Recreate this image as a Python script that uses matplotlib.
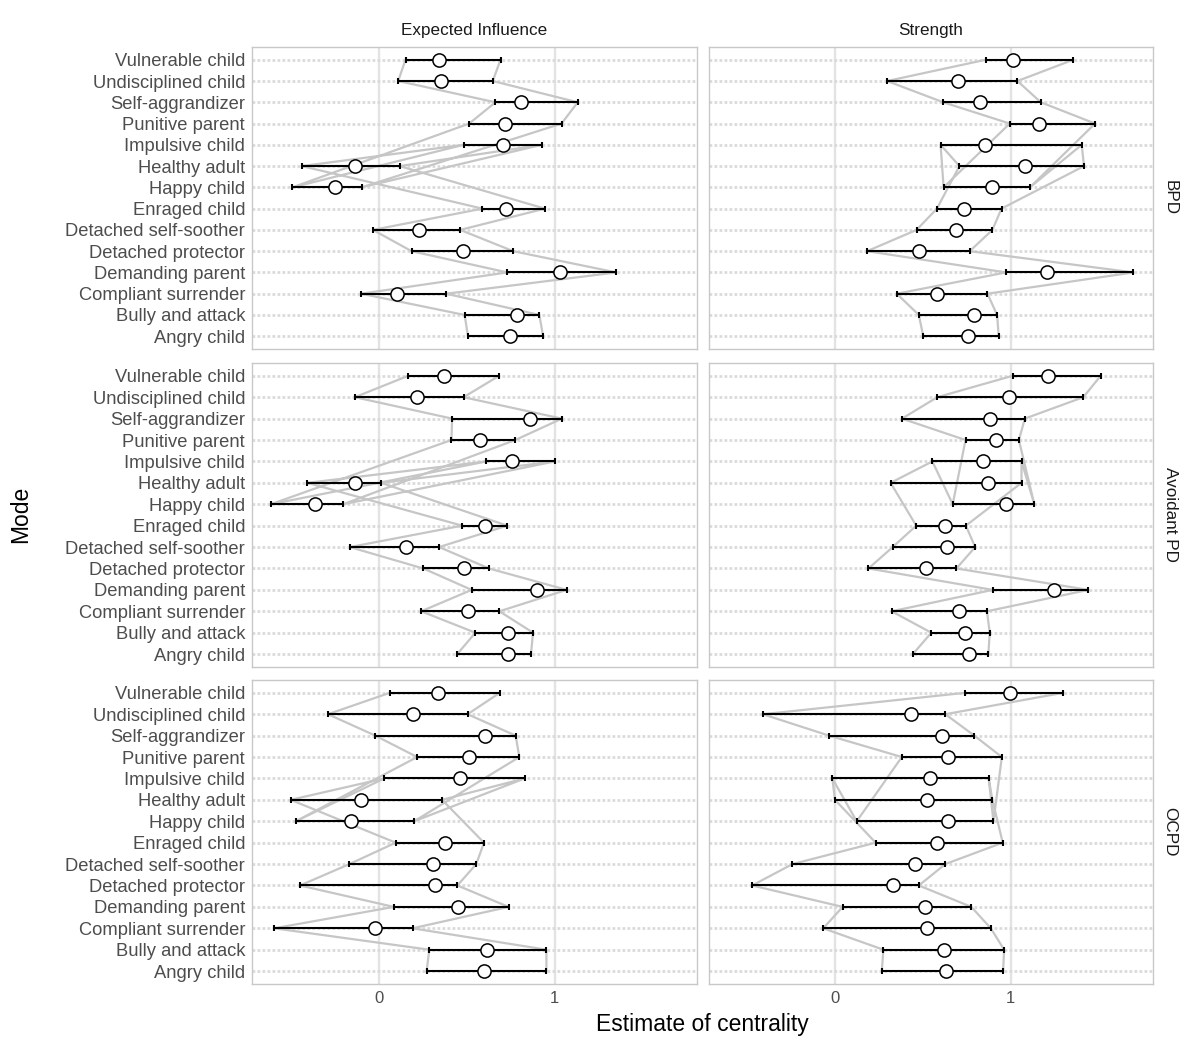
import matplotlib
matplotlib.use("Agg")
import matplotlib.pyplot as plt
import numpy as np

plt.rcParams['font.family'] = ['Liberation Sans', 'DejaVu Sans']

# ---- categories (display order, top to bottom) ----
modes = ["Vulnerable child", "Undisciplined child", "Self-aggrandizer",
         "Punitive parent", "Impulsive child", "Healthy adult", "Happy child",
         "Enraged child", "Detached self-soother", "Detached protector",
         "Demanding parent", "Compliant surrender", "Bully and attack",
         "Angry child"]
# order in which the CI bound lines are connected
path_order = ["Vulnerable child", "Undisciplined child", "Self-aggrandizer",
              "Punitive parent", "Happy child", "Impulsive child",
              "Healthy adult", "Enraged child", "Detached self-soother",
              "Detached protector", "Demanding parent", "Compliant surrender",
              "Bully and attack", "Angry child"]

disorders = ["BPD", "Avoidant PD", "OCPD"]
measures = ["Expected Influence", "Strength"]

# ---- BPD ----
bpd_ei_est = [0.344, 0.355, 0.809, 0.718, 0.706, -0.132, -0.250, 0.727, 0.227, 0.479, 1.031, 0.103, 0.784, 0.748]
bpd_ei_lo  = [0.153, 0.111, 0.664, 0.515, 0.483, -0.437, -0.490, 0.590, -0.032, 0.187, 0.731, -0.099, 0.489, 0.508]
bpd_ei_hi  = [0.693, 0.649, 1.132, 1.040, 0.927, 0.120, -0.097, 0.945, 0.464, 0.765, 1.351, 0.384, 0.914, 0.935]

bpd_st_est = [1.010, 0.699, 0.825, 1.160, 0.851, 1.080, 0.895, 0.731, 0.686, 0.476, 1.204, 0.579, 0.790, 0.756]
bpd_st_lo  = [0.857, 0.295, 0.615, 0.994, 0.600, 0.707, 0.617, 0.579, 0.463, 0.181, 0.973, 0.350, 0.476, 0.501]
bpd_st_hi  = [1.356, 1.038, 1.171, 1.480, 1.404, 1.417, 1.109, 0.947, 0.895, 0.766, 1.699, 0.867, 0.922, 0.931]

# ---- Avoidant PD ----
avd_ei_est = [0.374, 0.218, 0.861, 0.578, 0.758, -0.135, -0.361, 0.607, 0.155, 0.483, 0.901, 0.508, 0.737, 0.735]
avd_ei_lo  = [0.168, -0.135, 0.418, 0.414, 0.613, -0.405, -0.613, 0.475, -0.164, 0.254, 0.529, 0.242, 0.550, 0.447]
avd_ei_hi  = [0.685, 0.483, 1.042, 0.777, 1.002, 0.015, -0.202, 0.731, 0.344, 0.628, 1.069, 0.687, 0.878, 0.866]

avd_st_est = [1.212, 0.989, 0.881, 0.918, 0.841, 0.870, 0.971, 0.623, 0.639, 0.516, 1.245, 0.706, 0.740, 0.763]
avd_st_lo  = [1.010, 0.581, 0.380, 0.742, 0.553, 0.315, 0.669, 0.461, 0.327, 0.189, 0.897, 0.321, 0.547, 0.442]
avd_st_hi  = [1.512, 1.413, 1.080, 1.046, 1.061, 1.061, 1.134, 0.744, 0.797, 0.690, 1.442, 0.864, 0.880, 0.872]

# ---- OCPD ----
ocpd_ei_est = [0.338, 0.195, 0.605, 0.513, 0.464, -0.101, -0.158, 0.378, 0.309, 0.319, 0.452, -0.019, 0.616, 0.601]
ocpd_ei_lo  = [0.063, -0.288, -0.019, 0.219, 0.032, -0.500, -0.471, 0.097, -0.166, -0.447, 0.086, -0.594, 0.288, 0.273]
ocpd_ei_hi  = [0.689, 0.506, 0.779, 0.800, 0.830, 0.361, 0.202, 0.599, 0.555, 0.448, 0.739, 0.193, 0.954, 0.954]

ocpd_st_est = [0.996, 0.429, 0.606, 0.644, 0.537, 0.524, 0.644, 0.577, 0.455, 0.330, 0.510, 0.524, 0.619, 0.629]
ocpd_st_lo  = [0.741, -0.413, -0.036, 0.379, -0.017, -0.002, 0.122, 0.230, -0.244, -0.474, 0.042, -0.069, 0.274, 0.265]
ocpd_st_hi  = [1.299, 0.627, 0.792, 0.949, 0.874, 0.895, 0.901, 0.954, 0.627, 0.476, 0.775, 0.886, 0.962, 0.956]

xticks = [0, 1]
xticklabels = ["0", "1"]

panels = {
    ("BPD", "Expected Influence"): (bpd_ei_est, bpd_ei_lo, bpd_ei_hi),
    ("BPD", "Strength"): (bpd_st_est, bpd_st_lo, bpd_st_hi),
    ("Avoidant PD", "Expected Influence"): (avd_ei_est, avd_ei_lo, avd_ei_hi),
    ("Avoidant PD", "Strength"): (avd_st_est, avd_st_lo, avd_st_hi),
    ("OCPD", "Expected Influence"): (ocpd_ei_est, ocpd_ei_lo, ocpd_ei_hi),
    ("OCPD", "Strength"): (ocpd_st_est, ocpd_st_lo, ocpd_st_hi),
}

fig = plt.figure(figsize=(12, 10.49), dpi=100)

col_x = [(0.210, 0.5808), (0.5908, 0.9608)]
row_y = [(0.6673, 0.9552), (0.3642, 0.6540), (0.0620, 0.3518)]

n = len(modes)
ypos = {m: n - 1 - i for i, m in enumerate(modes)}

for r, dis in enumerate(disorders):
    for c, meas in enumerate(measures):
        x0, x1 = col_x[c]
        y0, y1 = row_y[r]
        ax = fig.add_axes([x0, y0, x1 - x0, y1 - y0])
        est, lo, hi = panels[(dis, meas)]
        d_lo = dict(zip(modes, lo))
        d_hi = dict(zip(modes, hi))

        ax.set_xlim(-0.72, 1.81)
        ax.set_ylim(-0.6, n - 0.4)

        # grid
        for xv in xticks:
            ax.axvline(xv, color="#E3E3E3", lw=1.7, zorder=0)
        for m in modes:
            ax.axhline(ypos[m], color="#DADADA", lw=2.0, ls=(0, (1, 0.8)), zorder=0)

        # CI bound lines
        yp = [ypos[m] for m in path_order]
        ax.plot([d_lo[m] for m in path_order], yp, color="#C6C6C6", lw=1.6, zorder=1)
        ax.plot([d_hi[m] for m in path_order], yp, color="#C6C6C6", lw=1.6, zorder=1)

        ys = [ypos[m] for m in modes]
        ax.errorbar(est, ys,
                    xerr=[np.array(est) - np.array(lo), np.array(hi) - np.array(est)],
                    fmt="none", ecolor="black", elinewidth=1.5, capsize=2.0,
                    capthick=1.5, zorder=2)
        ax.plot(est, ys, "o", ms=9.5, mfc="white", mec="black", mew=1.1, zorder=3)

        for sp in ax.spines.values():
            sp.set_color("#C8C8C8")
            sp.set_linewidth(1.0)

        ax.set_yticks(ys)
        if c == 0:
            ax.set_yticklabels(modes, fontsize=13.2, color="#4D4D4D")
        else:
            ax.set_yticklabels([])
        ax.set_xticks(xticks)
        if r == 2:
            ax.set_xticklabels(xticklabels, fontsize=12, color="#4D4D4D")
        else:
            ax.set_xticklabels([])
        ax.tick_params(length=0, pad=5)

        if r == 0:
            ax.text(0.5, 1.03, meas, transform=ax.transAxes, ha="center",
                    va="bottom", fontsize=12.3, color="#1A1A1A")
        if c == 1:
            ax.text(1.022, 0.5, dis, transform=ax.transAxes, ha="left",
                    va="center", rotation=-90, fontsize=12.3, color="#1A1A1A")

fig.text(0.5855, 0.0125, "Estimate of centrality", ha="center", va="bottom",
         fontsize=16.5, color="black")
fig.text(0.017, 0.51, "Mode", rotation=90, ha="center", va="center",
         fontsize=16.5, color="black")

fig.savefig("out.png", dpi=100)
